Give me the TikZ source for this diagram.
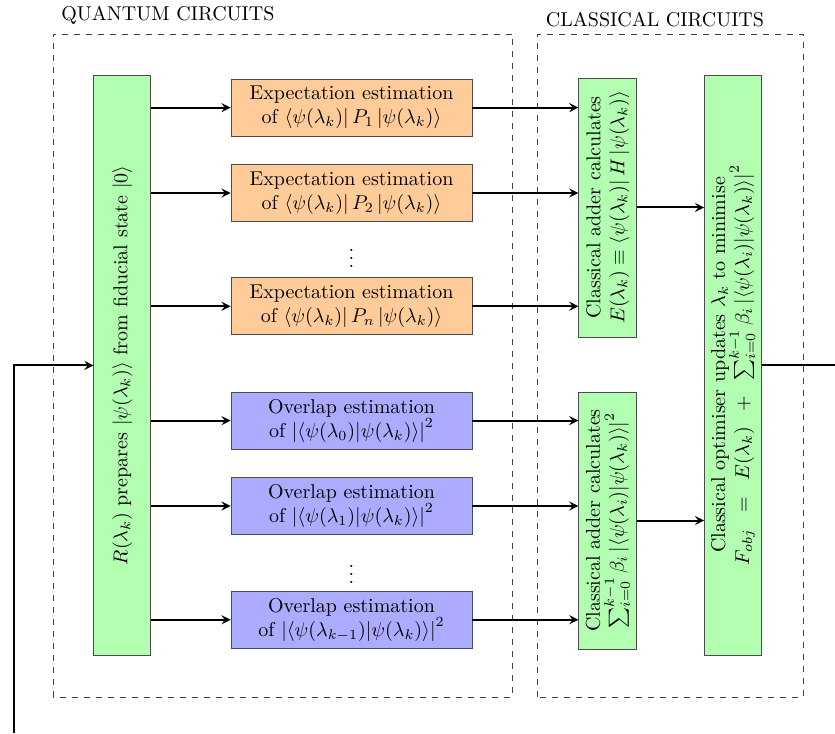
\documentclass[tikz,border=0pt]{standalone}
\usepackage{amsmath}
\tikzset{
	region/.style={dashed, draw=black!75},
	prepbox/.style={draw=black!70, fill=green!30, rotate=90, minimum width=10.2cm, minimum height=1cm, inner sep=1pt, align=center},
	addbox/.style={draw=black!70, fill=green!30, rotate=90, minimum width=4.55cm, minimum height=1.02cm, inner sep=1pt, align=center},
	expbox/.style={draw=black!70, fill=orange!40, minimum width=4.235cm, minimum height=1cm, inner sep=2pt, align=center},
	ovlbox/.style={draw=black!70, fill=blue!33, minimum width=4.235cm, minimum height=1cm, inner sep=2pt, align=center},
	dotsnode/.style={inner sep=0pt},
	flow/.style={line width=1pt, -stealth}
}

\begin{document}
\begin{tikzpicture}
		%%%%% START %%%%%
		\useasboundingbox (0, 0) rectangle (14.673, 12.881);
		
		\draw[region] (0.93, 0.63) rectangle (9.01, 12.28);
		\draw[region] (9.45, 0.63) rectangle (14.11, 12.28);
		\node[anchor=west] (qlabel) at (0.955, 12.62) {QUANTUM CIRCUITS};
		\node[anchor=west] (clabel) at (9.47, 12.53) {CLASSICAL CIRCUITS};
		
		\node[prepbox] (prep) at (2.15, 6.46) {$R(\lambda_k)$ prepares $|\psi(\lambda_k)\rangle$ from fiducial state $|0\rangle$};
		
		\node[expbox] (exp1) at (6.177, 10.99) {Expectation estimation\\ of $\langle\psi(\lambda_k)|\,P_1\,|\psi(\lambda_k)\rangle$};
		\node[expbox] (exp2) at (6.177, 9.49) {Expectation estimation\\ of $\langle\psi(\lambda_k)|\,P_2\,|\psi(\lambda_k)\rangle$};
		\node[dotsnode] (expdots) at (6.177, 8.45) {$\vdots$};
		\node[expbox] (exp3) at (6.177, 7.50) {Expectation estimation\\ of $\langle\psi(\lambda_k)|\,P_n\,|\psi(\lambda_k)\rangle$};
		
		\node[ovlbox] (ovl1) at (6.177, 5.49) {Overlap estimation\\ of $\left|\langle\psi(\lambda_0)|\psi(\lambda_k)\rangle\right|^2$};
		\node[ovlbox] (ovl2) at (6.177, 3.99) {Overlap estimation\\ of $\left|\langle\psi(\lambda_1)|\psi(\lambda_k)\rangle\right|^2$};
		\node[dotsnode] (ovldots) at (6.177, 2.90) {$\vdots$};
		\node[ovlbox] (ovl3) at (6.177, 1.99) {Overlap estimation\\ of $\left|\langle\psi(\lambda_{k-1})|\psi(\lambda_k)\rangle\right|^2$};
		
		\node[addbox] (add1) at (10.68, 9.235) {Classical adder calculates\\ $E(\lambda_k)\equiv\langle\psi(\lambda_k)|\,H\,|\psi(\lambda_k)\rangle$};
		\node[addbox, minimum width=4.52cm] (add2) at (10.68, 3.734) {Classical adder calculates\\ $\sum_{i=0}^{k-1}\beta_i\left|\langle\psi(\lambda_i)|\psi(\lambda_k)\rangle\right|^2$};
		
		\node[prepbox, minimum width=10.19cm] (opt) at (12.88, 6.467) {Classical optimiser updates $\lambda_k$ to minimise\\ $F_{obj}\;\;=\;\;E(\lambda_k)\;\;+\;\;\sum_{i=0}^{k-1}\beta_i\left|\langle\psi(\lambda_i)|\psi(\lambda_k)\rangle\right|^2$};
		
		\draw[flow] (exp1 -| prep.south) -- (exp1.west);
		\draw[flow] (exp2 -| prep.south) -- (exp2.west);
		\draw[flow] (exp3 -| prep.south) -- (exp3.west);
		\draw[flow] (ovl1 -| prep.south) -- (ovl1.west);
		\draw[flow] (ovl2 -| prep.south) -- (ovl2.west);
		\draw[flow] (ovl3 -| prep.south) -- (ovl3.west);
		
		\draw[flow] (exp1.east) -- (exp1 -| add1.north);
		\draw[flow] (exp2.east) -- (exp2 -| add1.north);
		\draw[flow] (exp3.east) -- (exp3 -| add1.north);
		\draw[flow] (ovl1.east) -- (ovl1 -| add2.north);
		\draw[flow] (ovl2.east) -- (ovl2 -| add2.north);
		\draw[flow] (ovl3.east) -- (ovl3 -| add2.north);
		
		\draw[flow] (add1.south) -- (add1.south -| opt.north);
		\draw[flow] (add2.south) -- (add2.south -| opt.north);
		
		% feedback loop, cut at the page edge
		\coordinate (fbout) at (14.673, 6.467);
		\coordinate (fbin) at (0.246, 0);
		\draw[line width=1pt] (opt.south) -- (fbout);
		\draw[flow] (fbin) |- (prep.north);
		
		%%%%% END %%%%%
	\end{tikzpicture}
\end{document}
